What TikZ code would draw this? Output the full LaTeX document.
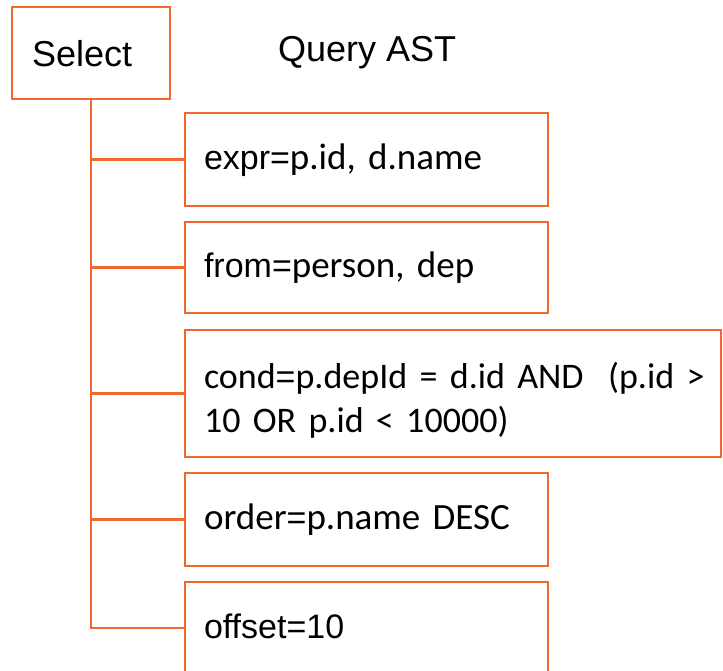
\documentclass[tikz,border=0pt]{standalone}
\usepackage{fontspec}
\newfontfamily\arfont{Liberation Sans}
\newfontfamily\cafont{Carlito}
\definecolor{ast}{RGB}{241,104,45}
\newcommand\keyt[1]{{\arfont\fontsize{34}{44}\selectfont #1}}
\newcommand\valt[1]{{\cafont\fontsize{37}{44}\selectfont #1}}
\newcommand\valc[1]{{\cafont\fontsize{36}{44}\selectfont #1}}
\begin{document}
\begin{tikzpicture}[x=1pt,y=-1pt,
  box/.style={draw=ast, line width=2.2pt, rectangle, anchor=north west,
    outer sep=0pt, inner xsep=19pt, inner ysep=0pt, align=left,
    font=\cafont\fontsize{37}{44}\selectfont,
    text height=26pt, text depth=6pt, text width=325pt},
  link/.style={draw=ast, line width=2.2pt}]
\useasboundingbox (0,0) rectangle (723,671);
\clip (0,0) rectangle (723,671);

\node[box, inner xsep=20pt, text width=118pt, minimum height=92pt,
  text height=28pt, text depth=0pt] (select) at (12,7) {\arfont\fontsize{36}{44}\selectfont Select};
\node[anchor=base west, inner sep=0pt, font=\arfont\fontsize{36}{44}\selectfont] (title) at (278,62) {Query AST};

\node[box, minimum height=93pt] (expr) at (185,113) {\mbox{\keyt{expr=}\valt{p.id, d.name}}};
\node[box, minimum height=91pt] (from) at (185,222) {\mbox{\keyt{from=}\valt{person, dep}}};
\node[box, minimum height=127pt, text width=498pt, text height=26pt, text depth=37pt] (cond) at (185,330)
  {\mbox{\valc{cond}\keyt{=}\valc{p.depId = d.id AND~~(p.id >}}\\\mbox{\valc{10 OR p.id < 10000)}}};
\node[box, minimum height=93pt] (order) at (185,473) {\mbox{\valt{order}\keyt{=}\valt{p.name DESC}}};
\node[box, minimum height=92pt] (offset) at (185,582) {\mbox{\keyt{offset=10}}};

\draw[link] (select.south) |- (expr.west);
\draw[link] (select.south) |- (from.west);
\draw[link] (select.south) |- (cond.west);
\draw[link] (select.south) |- (order.west);
\draw[link] (select.south) |- (offset.west);
\end{tikzpicture}
\end{document}
